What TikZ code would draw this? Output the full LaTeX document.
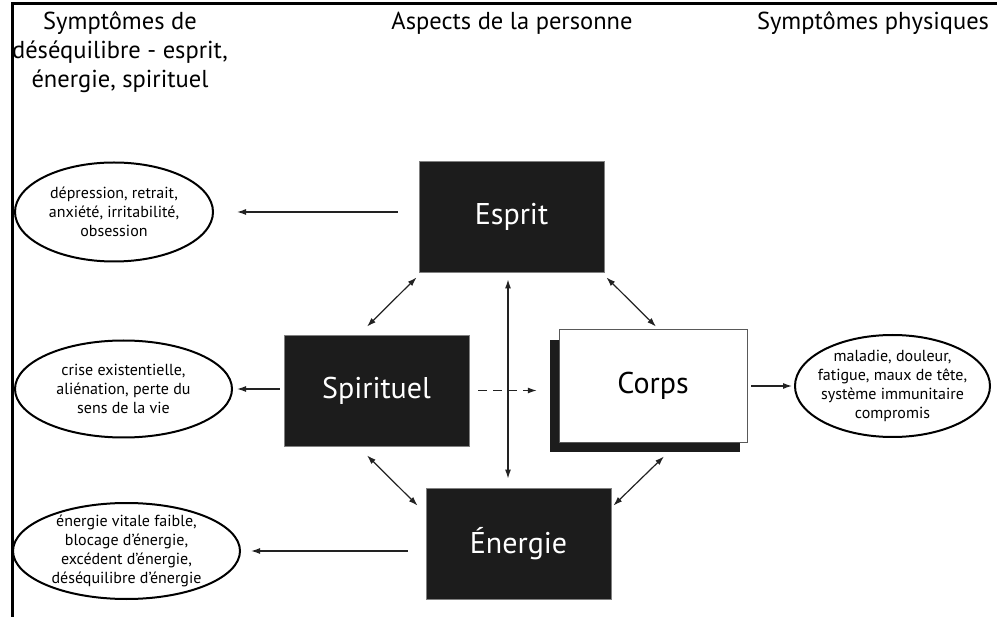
\documentclass[tikz,border=0pt]{standalone}
\usepackage{fontspec}
\setmainfont{PT Sans}
\usetikzlibrary{arrows.meta,shapes.geometric}
\definecolor{boxgray}{HTML}{1C1C1C}
\definecolor{linegray}{HTML}{222222}

\begin{document}
\begin{tikzpicture}[x=1pt, y=-1pt,
  aspect/.style={fill=boxgray, draw=gray, line width=0.8pt, minimum width=185pt, minimum height=111pt, text=white, font=\fontsize{30}{36}\selectfont},
  symellipse/.style={ellipse, draw=black, line width=2pt, inner sep=0pt},
  symtext/.style={align=center, font=\fontsize{16}{19}\selectfont, text=black},
  heading/.style={align=center, font=\fontsize{24.5}{29}\selectfont, anchor=base},
  onearr/.style={draw=linegray, line width=1.2pt, -{Latex[length=9pt,width=6pt]}},
  twoarr/.style={draw=linegray, line width=1.2pt, {Latex[length=9pt,width=6pt]}-{Latex[length=9pt,width=6pt]}}]
  \useasboundingbox (0,0) rectangle (999,617);
  % frame
  \draw[black, line width=3pt] (12,617) -- (12,4) -- (997,4);
  % headings
  \node[heading] (head1) at (120,88) {Symptômes de\\déséquilibre - esprit,\\énergie, spirituel};
  \node[heading] (head2) at (512,30) {Aspects de la personne};
  \node[heading] (head3) at (873,30) {Symptômes physiques};
  % aspects of the person
  \node[aspect] (esprit) at (511.5,216.5) {Esprit};
  \node[aspect] (spirituel) at (376.5,390.5) {Spirituel};
  \node[aspect] (energie) at (518.5,543.5) {Énergie};
  \node[fill=boxgray, minimum width=190pt, minimum height=112pt] (corpsshadow) at (645,396) {};
  \node[aspect, fill=white, draw=gray!70!black, text=black, minimum width=188pt, minimum height=113pt] (corps) at (653,385.5) {Corps};
  % symptoms
  \node[symellipse, minimum width=198pt, minimum height=99pt,
    label={[symtext]center:dépression, retrait,\\anxiété, irritabilité,\\obsession}] (sym1) at (114,212) {};
  \node[symellipse, minimum width=217pt, minimum height=97pt,
    label={[symtext]center:crise existentielle,\\aliénation, perte du\\sens de la vie}] (sym2) at (123.5,389) {};
  \node[symellipse, minimum width=227pt, minimum height=96pt,
    label={[symtext]center:énergie vitale faible,\\blocage d'énergie,\\excédent d'énergie,\\déséquilibre d'énergie}] (sym3) at (126.5,551) {};
  \node[symellipse, minimum width=195pt, minimum height=102pt,
    label={[symtext]center:maladie, douleur,\\fatigue, maux de tête,\\système immunitaire\\compromis}] (sym4) at (892.5,386) {};
  % arrows to the symptoms
  \draw[onearr, shorten <=21pt, shorten >=23pt] (esprit.west |- sym1.east) -- (sym1.east);
  \draw[onearr, shorten <=4pt, shorten >=4pt] (spirituel.west |- sym2.east) -- (sym2.east);
  \draw[onearr, shorten <=18pt, shorten >=10pt] (energie.west |- sym3.east) -- (sym3.east);
  \draw[onearr, shorten <=4pt, shorten >=2pt] (corps.east |- sym4.west) -- (sym4.west);
  % links between the aspects
  \coordinate (axis) at (508,0);
  \draw[twoarr, shorten <=7pt, shorten >=9pt] (esprit.south -| axis) -- (energie.north -| axis);
  \draw[onearr, dashed, dash pattern=on 9pt off 6pt, shorten <=9pt, shorten >=13pt] (spirituel.east) -- (spirituel.east -| corpsshadow.west);
  \draw[twoarr] ([shift={(-2,5)}]esprit.south west) -- ([shift={(-9.5,-8)}]spirituel.north);
  \draw[twoarr] ([shift={(2,5)}]esprit.south east) -- ([shift={(3,-2)}]corps.north);
  \draw[twoarr] ([shift={(-9.5,9)}]spirituel.south) -- ([shift={(-8,18)}]energie.north west);
  \draw[twoarr] ([shift={(11,14)}]corps.south) -- ([shift={(2,18)}]energie.north east);
\end{tikzpicture}
\end{document}
